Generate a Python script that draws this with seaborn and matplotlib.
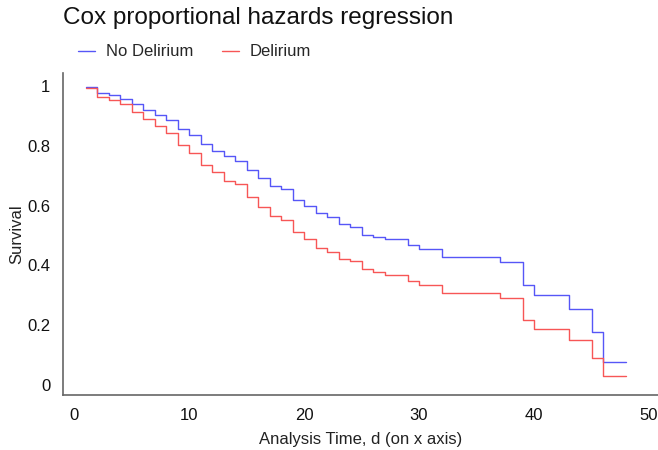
import matplotlib
matplotlib.use('Agg')
import matplotlib.pyplot as plt
import seaborn as sns
import pandas as pd

# step times (days) and survival estimates
times = [1, 2, 3, 4, 5, 6, 7, 8, 9, 10, 11, 12, 13, 14, 15, 16, 17, 18, 19, 20,
         21, 22, 23, 24, 25, 26, 27, 29, 30, 32, 37, 39, 40, 43, 45, 46, 48]
no_delirium = [0.996, 0.976, 0.968, 0.957, 0.939, 0.920, 0.903, 0.886, 0.855, 0.835,
               0.805, 0.784, 0.764, 0.750, 0.719, 0.691, 0.667, 0.655, 0.620, 0.600,
               0.574, 0.561, 0.537, 0.530, 0.502, 0.496, 0.487, 0.467, 0.456, 0.428,
               0.410, 0.333, 0.301, 0.254, 0.177, 0.077, 0.077]
delirium = [0.993, 0.963, 0.954, 0.940, 0.914, 0.889, 0.866, 0.842, 0.803, 0.775,
            0.736, 0.711, 0.683, 0.671, 0.630, 0.596, 0.566, 0.552, 0.513, 0.487,
            0.457, 0.446, 0.420, 0.415, 0.388, 0.377, 0.367, 0.347, 0.334, 0.308,
            0.290, 0.217, 0.188, 0.151, 0.091, 0.030, 0.030]
groups = ['No Delirium', 'Delirium']
colors = ['#5656f7', '#f75656']
y_ticks = [0, 0.2, 0.4, 0.6, 0.8, 1]
y_labels = ['0', '0.2', '0.4', '0.6', '0.8', '1']
x_ticks = [0, 10, 20, 30, 40, 50]


def main():
    sns.set_style('white')
    plt.rcParams['font.family'] = ['Liberation Sans', 'DejaVu Sans']

    df = pd.DataFrame({
        'Time': times + times,
        'Survival': no_delirium + delirium,
        'Group': [groups[0]] * len(times) + [groups[1]] * len(times),
    })

    fig = plt.figure(figsize=(6.58, 4.5), dpi=100)
    ax = fig.add_axes([63 / 658, 55 / 450, 595 / 658, 322 / 450])

    sns.lineplot(data=df, x='Time', y='Survival', hue='Group', hue_order=groups,
                 palette=colors, drawstyle='steps-post', linewidth=1.0,
                 estimator=None, legend=False, ax=ax)

    ax.set_xlim(-0.96, 50.78)
    ax.set_ylim(-0.033, 1.043)
    ax.set_xticks(x_ticks)
    ax.set_xticklabels([str(x) for x in x_ticks], fontsize=12, color='#111111')
    ax.set_yticks(y_ticks)
    ax.set_yticklabels(y_labels, fontsize=12, color='#111111')
    ax.tick_params(axis='both', length=0)
    ax.tick_params(axis='x', pad=9)
    ax.tick_params(axis='y', pad=9)

    for side in ['top', 'right']:
        ax.spines[side].set_visible(False)
    for side in ['left', 'bottom']:
        ax.spines[side].set_color('#666666')
        ax.spines[side].set_linewidth(1.2)

    ax.set_xlabel('Analysis Time, d (on x axis)', fontsize=12, color='#222222', labelpad=7)
    ax.set_ylabel('Survival', fontsize=12, color='#222222', labelpad=2)

    fig.text(63 / 658, 1 - 18 / 450, 'Cox proportional hazards regression',
             fontsize=17.5, ha='left', va='center', color='#111111')

    handles = [plt.Line2D([], [], color=c, linewidth=1.0) for c in colors]
    fig.legend(handles, groups, loc='center left', bbox_to_anchor=(78 / 658, 1 - 52 / 450),
               ncol=2, frameon=False, fontsize=12, borderpad=0, borderaxespad=0,
               handlelength=1.0, handletextpad=0.65, columnspacing=1.75)

    plt.savefig('out.png', dpi=100)
    plt.close()


if __name__ == '__main__':
    main()
